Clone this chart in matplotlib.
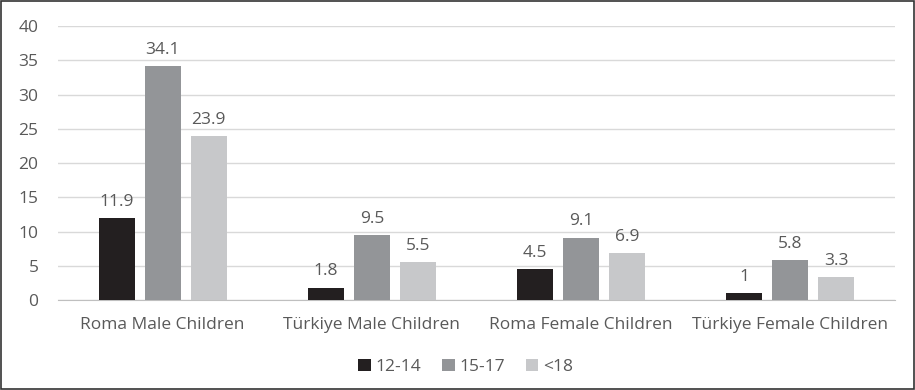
import numpy as np
import matplotlib
matplotlib.use("Agg")
import matplotlib.pyplot as plt

# data
categories = ["Roma Male Children", "Türkiye Male Children",
              "Roma Female Children", "Türkiye Female Children"]
series_names = ["12-14", "15-17", "<18"]
age_12_14 = [11.9, 1.8, 4.5, 1.0]
age_15_17 = [34.1, 9.5, 9.1, 5.8]
age_under_18 = [23.9, 5.5, 6.9, 3.3]
yticks = [0, 5, 10, 15, 20, 25, 30, 35, 40]

colors = ["#231f20", "#939598", "#c7c8ca"]
text_col = "#595959"
fs = 12.5

plt.rcParams["font.family"] = ["Open Sans", "DejaVu Sans"]

fig = plt.figure(figsize=(9.15, 3.9), dpi=100)
ax = fig.add_axes([58 / 915, 1 - 300 / 390, 837 / 915, 274 / 390])

x = np.arange(len(categories))
width = 36 / 209
step = 46 / 209
for i, (vals, name) in enumerate(zip([age_12_14, age_15_17, age_under_18], series_names)):
    pos = x + (i - 1) * step
    bars = ax.bar(pos, vals, width, color=colors[i], label=name, zorder=3)
    for b, v in zip(bars, vals):
        ax.text(b.get_x() + b.get_width() / 2, v + 1.2, f"{v:g}", ha="center",
                va="bottom", fontsize=fs, color=text_col)

ax.set_xlim(-0.5, len(categories) - 0.5)
ax.set_ylim(0, 40)
ax.set_yticks(yticks)
ax.set_xticks(x)
ax.set_xticklabels(categories)
ax.yaxis.grid(True, color="#d9d9d9", linewidth=1, zorder=0)
for s in ["top", "right", "left"]:
    ax.spines[s].set_visible(False)
ax.spines["bottom"].set_color("#bfbfbf")
ax.tick_params(axis="both", length=0, labelsize=fs, labelcolor=text_col)
ax.tick_params(axis="x", pad=12)
ax.tick_params(axis="y", pad=14)

leg = fig.legend(loc="center", bbox_to_anchor=(466 / 915, 1 - 367 / 390), ncol=3,
                 frameon=False, fontsize=fs, handlelength=0.7, handleheight=0.7,
                 handletextpad=0.3, columnspacing=1.2)
for t in leg.get_texts():
    t.set_color(text_col)

# outer border
fig.patches.append(plt.Rectangle((0.0015, 0.003), 0.997, 0.994, transform=fig.transFigure,
                                 fill=False, edgecolor="#333333", linewidth=1.2))

fig.savefig("out.png", dpi=100)
